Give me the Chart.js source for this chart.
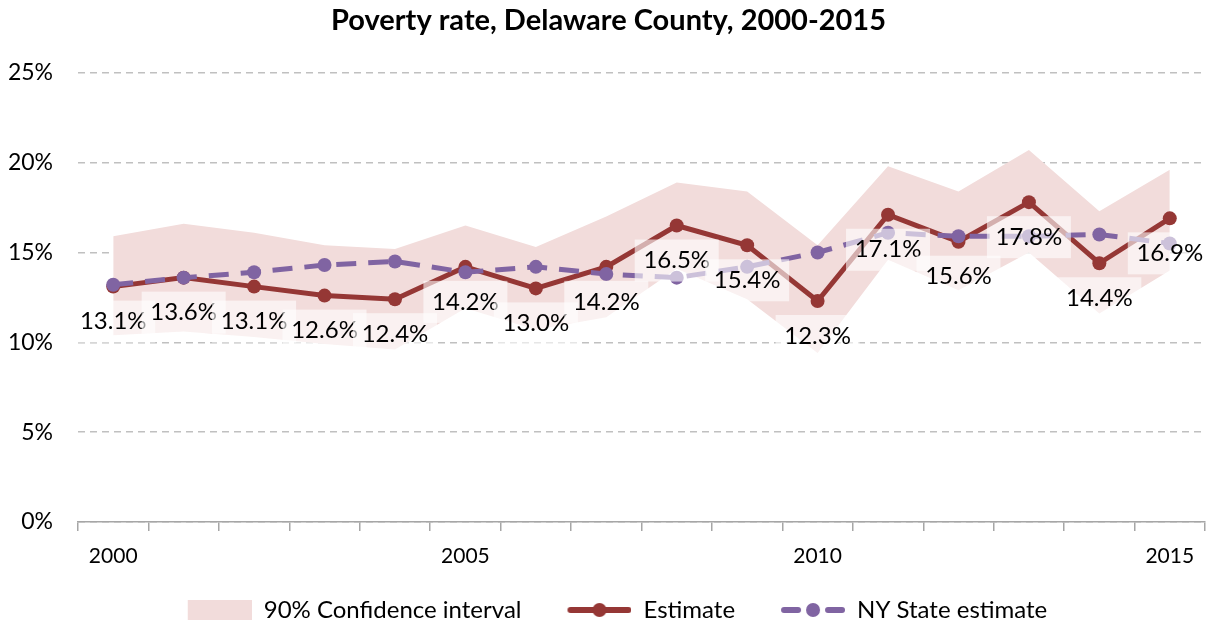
<!DOCTYPE html>
<html>
<head>
<meta charset="utf-8">
<title>Poverty rate, Delaware County</title>
<script src="https://cdn.jsdelivr.net/npm/chart.js@4.4.0/dist/chart.umd.min.js"></script>
<style>
    html, body { margin: 0; padding: 0; background: #fff; }
    #wrap { width: 1212px; height: 625px; }
</style>
</head>
<body>
<div id="wrap"><canvas id="povertyChart"></canvas></div>
<script>
// Data
const years = ['2000', '2001', '2002', '2003', '2004', '2005', '2006', '2007', '2008', '2009', '2010', '2011', '2012', '2013', '2014', '2015'];
const estimate = [13.1, 13.6, 13.1, 12.6, 12.4, 14.2, 13.0, 14.2, 16.5, 15.4, 12.3, 17.1, 15.6, 17.8, 14.4, 16.9];
const nyState = [13.2, 13.6, 13.9, 14.3, 14.5, 13.9, 14.2, 13.8, 13.6, 14.2, 15.0, 16.1, 15.9, 15.9, 16.0, 15.5];
const ciUpper = [15.9, 16.6, 16.1, 15.4, 15.2, 16.5, 15.3, 17.0, 18.9, 18.4, 15.4, 19.8, 18.4, 20.7, 17.3, 19.6];
const ciLower = [10.4, 10.6, 10.3, 9.9, 9.6, 11.9, 10.7, 11.4, 14.1, 12.4, 9.4, 14.6, 12.9, 15.0, 11.6, 14.0];
const shownYears = ['2000', '2005', '2010', '2015'];
const yTicks = [0, 5, 10, 15, 20, 25];

const FONT = 'Lato';
const RED = '#953735';
const PURPLE = '#8064A2';
const BAND = '#F2DCDB';
const ICON_GAP = 18; // empty space left of each legend symbol

// small canvases used as legend symbols
function legendIcon(kind) {
    const c = document.createElement('canvas');
    c.width = 64 + ICON_GAP;
    c.height = 20;
    const g = c.getContext('2d');
    g.translate(ICON_GAP, 0);
    if (kind === 'band') {
        g.fillStyle = BAND;
        g.fillRect(0, 0, 64, 20);
        return c;
    }
    const color = kind === 'estimate' ? RED : PURPLE;
    g.strokeStyle = color;
    g.fillStyle = color;
    g.lineWidth = 6;
    g.lineCap = 'round';
    g.beginPath();
    if (kind === 'estimate') {
        g.moveTo(3, 10); g.lineTo(61, 10);
    } else {
        g.moveTo(3, 10); g.lineTo(17, 10);
        g.moveTo(47, 10); g.lineTo(61, 10);
    }
    g.stroke();
    g.beginPath();
    g.arc(32, 10, 7, 0, Math.PI * 2);
    g.fill();
    return c;
}

// value labels with light boxes, drawn over the lines
const valueLabels = {
    id: 'valueLabels',
    afterDatasetsDraw(chart) {
        const ctx = chart.ctx;
        const meta = chart.getDatasetMeta(1);
        ctx.save();
        ctx.font = '24px ' + FONT;
        ctx.textAlign = 'center';
        ctx.textBaseline = 'middle';
        meta.data.forEach((pt, i) => {
            const x = pt.x;
            const y = pt.y + 35;
            ctx.fillStyle = 'rgba(255,255,255,0.6)';
            ctx.fillRect(x - 42, y - 21, 84, 42);
            ctx.fillStyle = '#000';
            ctx.fillText(estimate[i].toFixed(1) + '%', x, y);
        });
        ctx.restore();
    }
};

function buildChart() {
    const ctx = document.getElementById('povertyChart').getContext('2d');
    new Chart(ctx, {
        type: 'line',
        data: {
            labels: years,
            datasets: [
                {
                    label: 'NY State estimate',
                    data: nyState,
                    borderColor: PURPLE,
                    backgroundColor: PURPLE,
                    borderWidth: 5,
                    borderDash: [20, 12],
                    pointRadius: 7,
                    pointHoverRadius: 7,
                    pointBorderWidth: 0,
                    tension: 0,
                    fill: false,
                    order: 0
                },
                {
                    label: 'Estimate',
                    data: estimate,
                    borderColor: RED,
                    backgroundColor: RED,
                    borderWidth: 5,
                    pointRadius: 7,
                    pointHoverRadius: 7,
                    pointBorderWidth: 0,
                    tension: 0,
                    fill: false,
                    order: 1
                },
                {
                    label: '90% Confidence interval',
                    data: ciUpper,
                    borderWidth: 0,
                    borderColor: 'rgba(0,0,0,0)',
                    backgroundColor: BAND,
                    pointRadius: 0,
                    fill: '+1',
                    order: 2
                },
                {
                    label: 'ci-lower',
                    data: ciLower,
                    borderWidth: 0,
                    borderColor: 'rgba(0,0,0,0)',
                    pointRadius: 0,
                    fill: false,
                    order: 3
                }
            ]
        },
        options: {
            responsive: true,
            maintainAspectRatio: false,
            animation: false,
            layout: { padding: { left: 0, right: -5, top: 0, bottom: -7 } },
            plugins: {
                title: {
                    display: true,
                    text: 'Poverty rate, Delaware County, 2000-2015',
                    color: '#000',
                    font: { family: FONT, size: 29, weight: 'bold' },
                    padding: { top: 3, bottom: 35 }
                },
                legend: {
                    position: 'bottom',
                    labels: {
                        usePointStyle: true,
                        pointStyleWidth: 64 + ICON_GAP,
                        boxHeight: 20,
                        padding: 28,
                        color: '#000',
                        font: { family: FONT, size: 24 },
                        generateLabels: function () {
                            return [
                                { text: '90% Confidence interval', pointStyle: legendIcon('band'), fillStyle: BAND, strokeStyle: BAND, lineWidth: 0, hidden: false, datasetIndex: 2 },
                                { text: 'Estimate', pointStyle: legendIcon('estimate'), fillStyle: RED, strokeStyle: RED, lineWidth: 0, hidden: false, datasetIndex: 1 },
                                { text: 'NY State estimate', pointStyle: legendIcon('ny'), fillStyle: PURPLE, strokeStyle: PURPLE, lineWidth: 0, hidden: false, datasetIndex: 0 }
                            ];
                        }
                    }
                },
                tooltip: { enabled: false }
            },
            scales: {
                x: {
                    offset: true,
                    grid: { offset: true, drawOnChartArea: false, drawTicks: true, tickLength: 9, color: '#A6A6A6', lineWidth: 1.5 },
                    border: { color: '#A6A6A6', width: 1.5 },
                    ticks: {
                        autoSkip: false,
                        maxRotation: 0,
                        color: '#000',
                        padding: 13,
                        font: { family: FONT, size: 21 },
                        callback: function (value) {
                            const label = this.getLabelForValue(value);
                            return shownYears.includes(label) ? label : '';
                        }
                    },
                    afterFit: function (scale) { scale.height = 48; }
                },
                y: {
                    min: 0,
                    max: 25,
                    afterBuildTicks: function (scale) {
                        scale.ticks = yTicks.map(v => ({ value: v }));
                    },
                    grid: { color: '#C0C0C0', lineWidth: 1.5, drawTicks: false },
                    border: { display: false, dash: [7, 5] },
                    ticks: {
                        color: '#000',
                        padding: 25,
                        font: { family: FONT, size: 23 },
                        callback: v => v + '%'
                    },
                    afterFit: function (scale) { scale.width = 78; }
                }
            }
        },
        plugins: [valueLabels]
    });
}

document.fonts.load('24px ' + FONT).then(buildChart, buildChart);
</script>
</body>
</html>
